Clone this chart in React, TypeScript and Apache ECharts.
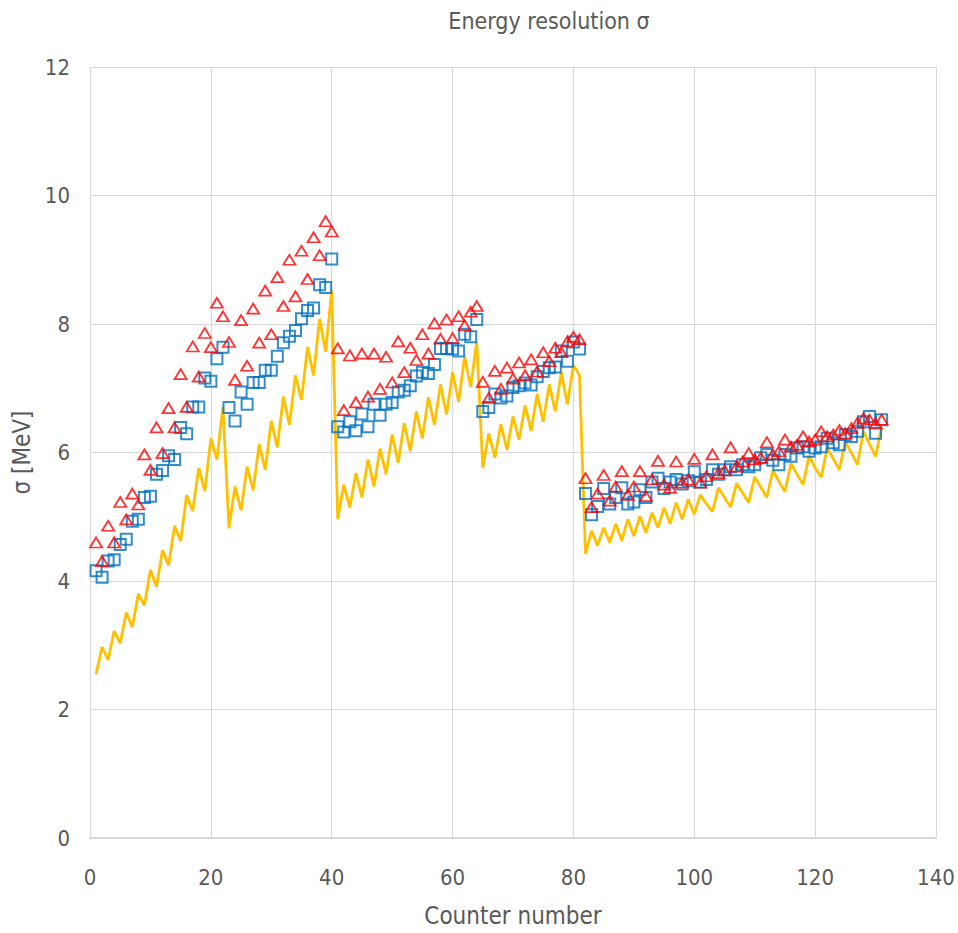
import React, { useEffect, useRef } from "react";
import * as echarts from "echarts";

const counters: number[] = Array.from({ length: 131 }, (_, i) => i + 1);

const modelSigma: number[] = [
  2.55, 2.97, 2.77, 3.22, 3.03, 3.51, 3.28, 3.80, 3.62, 4.17,
  3.91, 4.48, 4.24, 4.86, 4.62, 5.34, 5.09, 5.76, 5.40, 6.22,
  5.89, 6.71, 4.82, 5.47, 5.10, 5.78, 5.41, 6.13, 5.73, 6.49,
  6.08, 6.87, 6.43, 7.20, 6.82, 7.64, 7.20, 8.08, 7.57, 8.52,
  4.96, 5.50, 5.14, 5.68, 5.30, 5.89, 5.47, 6.06, 5.66, 6.28,
  5.84, 6.46, 6.02, 6.64, 6.22, 6.86, 6.43, 7.06, 6.59, 7.25,
  6.79, 7.49, 7.02, 7.72, 5.76, 6.30, 5.92, 6.44, 6.04, 6.56,
  6.20, 6.73, 6.34, 6.91, 6.48, 7.06, 6.64, 7.25, 6.75, 7.36,
  7.20, 4.42, 4.78, 4.55, 4.83, 4.60, 4.89, 4.63, 4.96, 4.70,
  5.01, 4.75, 5.06, 4.83, 5.14, 4.89, 5.22, 4.96, 5.27, 5.04,
  5.34, 5.20, 5.08, 5.45, 5.30, 5.15, 5.52, 5.37, 5.22, 5.62,
  5.46, 5.30, 5.72, 5.55, 5.39, 5.83, 5.66, 5.50, 5.95, 5.76,
  5.61, 6.07, 5.90, 5.73, 6.17, 5.99, 5.81, 6.33, 6.13, 5.94,
  6.40,
];

const redSigma: number[] = [
  4.60, 4.31, 4.86, 4.60, 5.23, 4.96, 5.36, 5.19, 5.97, 5.73,
  6.39, 5.99, 6.69, 6.39, 7.22, 6.71, 7.65, 7.18, 7.86, 7.64,
  8.33, 8.12, 7.72, 7.13, 8.06, 7.35, 8.24, 7.71, 8.52, 7.84,
  8.73, 8.28, 9.00, 8.43, 9.14, 8.70, 9.35, 9.07, 9.60, 9.44,
  7.62, 6.66, 7.51, 6.78, 7.54, 6.87, 7.54, 6.99, 7.49, 7.09,
  7.73, 7.25, 7.63, 7.44, 7.84, 7.54, 8.01, 7.77, 8.07, 7.78,
  8.12, 7.98, 8.19, 8.28, 7.10, 6.85, 7.27, 6.99, 7.32, 7.15,
  7.40, 7.20, 7.45, 7.26, 7.56, 7.42, 7.63, 7.56, 7.73, 7.80,
  7.76, 5.60, 5.15, 5.36, 5.65, 5.25, 5.47, 5.71, 5.34, 5.47,
  5.71, 5.32, 5.58, 5.87, 5.50, 5.45, 5.86, 5.53, 5.58, 5.90,
  5.53, 5.63, 5.97, 5.68, 5.72, 6.08, 5.78, 5.86, 5.99, 5.89,
  5.92, 6.16, 5.97, 6.02, 6.20, 6.09, 6.12, 6.25, 6.17, 6.20,
  6.33, 6.25, 6.28, 6.35, 6.30, 6.38, 6.46, 6.53, 6.51, 6.45,
  6.51,
];

const blueSigma: number[] = [
  4.16, 4.06, 4.31, 4.33, 4.57, 4.65, 4.93, 4.96, 5.30, 5.32,
  5.66, 5.72, 5.95, 5.89, 6.39, 6.29, 6.71, 6.71, 7.16, 7.11,
  7.46, 7.64, 6.70, 6.49, 6.94, 6.75, 7.09, 7.09, 7.28, 7.28,
  7.50, 7.71, 7.81, 7.90, 8.08, 8.21, 8.25, 8.61, 8.57, 9.01,
  6.40, 6.32, 6.48, 6.34, 6.60, 6.40, 6.75, 6.58, 6.75, 6.78,
  6.94, 6.97, 7.04, 7.19, 7.25, 7.23, 7.37, 7.62, 7.62, 7.61,
  7.58, 7.84, 7.80, 8.07, 6.64, 6.70, 6.91, 6.85, 6.88, 7.01,
  7.04, 7.08, 7.05, 7.18, 7.26, 7.32, 7.33, 7.58, 7.42, 7.72,
  7.61, 5.36, 5.03, 5.16, 5.44, 5.20, 5.30, 5.45, 5.20, 5.23,
  5.42, 5.30, 5.54, 5.60, 5.44, 5.54, 5.58, 5.51, 5.56, 5.70,
  5.54, 5.58, 5.73, 5.66, 5.73, 5.78, 5.73, 5.81, 5.78, 5.81,
  5.92, 5.97, 5.88, 5.81, 5.97, 5.94, 6.07, 6.09, 6.02, 6.07,
  6.09, 6.22, 6.15, 6.12, 6.28, 6.25, 6.33, 6.48, 6.56, 6.30,
  6.51,
];

const xTicks = { min: 0, max: 140, interval: 20 };
const yTicks = { min: 0, max: 12, interval: 2 };

const chartTitle = "Energy resolution σ";
const xName = "Counter number";
const yName = "σ [MeV]";

const FONT = "'Liberation Sans Narrow', 'DejaVu Sans Condensed', 'Open Sans', sans-serif";

export default function App() {
  const ref = useRef<HTMLDivElement>(null);

  useEffect(() => {
    if (!ref.current) return;
    const chart = echarts.init(ref.current, undefined, { renderer: "svg" });
    const pair = (arr: number[]) => counters.map((c, i) => [c, arr[i]]);
    chart.setOption({
      animation: false,
      backgroundColor: "#ffffff",
      textStyle: { fontFamily: FONT },
      grid: { left: 90, right: 22, top: 67, bottom: 91, containLabel: false },
      graphic: [
        {
          type: "text",
          x: 549,
          y: 21,
          style: {
            text: chartTitle,
            fontFamily: FONT,
            fontSize: 23,
            fill: "#595959",
            textAlign: "center",
            textVerticalAlign: "middle",
          },
        },
      ],
      xAxis: {
        type: "value",
        min: xTicks.min,
        max: xTicks.max,
        interval: xTicks.interval,
        name: xName,
        nameLocation: "middle",
        nameGap: 66,
        nameTextStyle: { fontFamily: FONT, fontSize: 24, color: "#595959" },
        axisLine: { show: true, lineStyle: { color: "#d0d0d0", width: 1.5 } },
        axisTick: { show: false },
        axisLabel: { fontFamily: FONT, fontSize: 22, color: "#595959", margin: 28 },
        splitLine: { show: true, lineStyle: { color: "#d9d9d9", width: 1.2 } },
      },
      yAxis: {
        type: "value",
        min: yTicks.min,
        max: yTicks.max,
        interval: yTicks.interval,
        name: yName,
        nameLocation: "middle",
        nameRotate: 90,
        nameGap: 48,
        nameTextStyle: { fontFamily: FONT, fontSize: 24, color: "#595959" },
        axisLine: { show: false },
        axisTick: { show: false },
        axisLabel: { fontFamily: FONT, fontSize: 22, color: "#595959", margin: 20 },
        splitLine: { show: true, lineStyle: { color: "#d9d9d9", width: 1.2 } },
      },
      series: [
        {
          name: "model",
          type: "line",
          data: pair(modelSigma),
          showSymbol: false,
          symbol: "none",
          lineStyle: { color: "#FFC000", width: 2.8 },
          z: 2,
        },
        {
          name: "blue",
          type: "scatter",
          data: pair(blueSigma),
          symbol: "rect",
          symbolSize: 11,
          itemStyle: { color: "transparent", borderColor: "#0070C0", borderWidth: 2 },
          z: 3,
        },
        {
          name: "red",
          type: "scatter",
          data: pair(redSigma),
          symbol: "triangle",
          symbolSize: [12, 10],
          itemStyle: { color: "transparent", borderColor: "#FF0000", borderWidth: 1.8 },
          z: 4,
        },
      ],
    });
    return () => chart.dispose();
  }, []);

  return (
    <div
      ref={ref}
      style={{ position: "absolute", left: 0, top: 0, width: 958, height: 933 }}
    />
  );
}
